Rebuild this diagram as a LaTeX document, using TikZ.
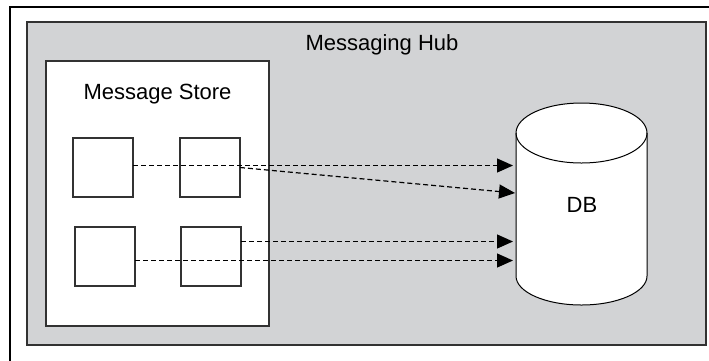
\documentclass[tikz,border=0pt]{standalone}
\usepackage{fontspec}
\setmainfont{Liberation Sans}
\usetikzlibrary{arrows.meta}
\definecolor{hubgray}{RGB}{210,211,213}
\definecolor{edgegray}{RGB}{50,50,50}
\tikzset{
  frameline/.style={draw=black, line width=1.1pt},
  hubbox/.style={draw=edgegray, fill=hubgray, line width=1.4pt, inner sep=0pt, outer sep=0pt, anchor=north west},
  storebox/.style={draw=edgegray, fill=white, line width=1.4pt, inner sep=0pt, outer sep=0pt, anchor=north west},
  itembox/.style={draw=edgegray, fill=white, line width=1.3pt, inner sep=0pt, outer sep=0pt, anchor=north west, minimum width=60pt, minimum height=59pt},
  flow/.style={draw=black, line width=1.2pt, dash pattern=on 5pt off 3pt, -{Triangle[length=16pt,width=14pt]}},
  cyl/.style={draw=black, fill=white, line width=1pt},
  lbl/.style={font=\fontsize{22pt}{26pt}\selectfont, inner sep=0pt, text=black}
}
\begin{document}
\begin{tikzpicture}[x=1pt,y=-1pt]
\useasboundingbox (0,0) rectangle (709,360);
% outer frame (only top and left visible)
\draw[frameline] (10,7) rectangle (730,380);
% hub
\node[hubbox, minimum width=679pt, minimum height=323pt] (hub) at (27,22) {};
\node[lbl] (hubtitle) at (382,45) {Messaging Hub};
% message store
\node[storebox, minimum width=223pt, minimum height=265pt] (store) at (46,61) {};
\node[lbl] (storetitle) at (157.5,94) {Message Store};
% items
\node[itembox] (s1) at (73,138) {};
\node[itembox] (s2) at (180,138) {};
\node[itembox] (s3) at (75,227) {};
\node[itembox] (s4) at (181,227) {};
% DB cylinder
\node[minimum width=131pt, minimum height=202pt, inner sep=0pt, outer sep=0pt, anchor=north west] (db) at (516,103) {};
\path[cyl] (516,133) -- (516,276) arc[start angle=180, end angle=360, x radius=65.5pt, y radius=29pt]
  -- (647,133) arc[start angle=0, end angle=180, x radius=65.5pt, y radius=30pt] -- cycle;
\draw[cyl, fill=none] (516,133) arc[start angle=180, end angle=360, x radius=65.5pt, y radius=30pt];
\node[lbl] (dblabel) at (582,205) {DB};
% flows
\draw[flow] ([yshift=2pt]s1.east) -- ([yshift=2pt,xshift=-3pt]s1.east -| db.west);
\draw[flow] (s2.east) -- ([yshift=11pt,xshift=-1pt]db.west);
\draw[flow] ([yshift=15pt]s4.east) -- ([yshift=15pt,xshift=-3pt]s4.east -| db.west);
\draw[flow] ([yshift=-4pt]s3.east) -- ([yshift=-4pt,xshift=-3pt]s3.east -| db.west);
\end{tikzpicture}
\end{document}
